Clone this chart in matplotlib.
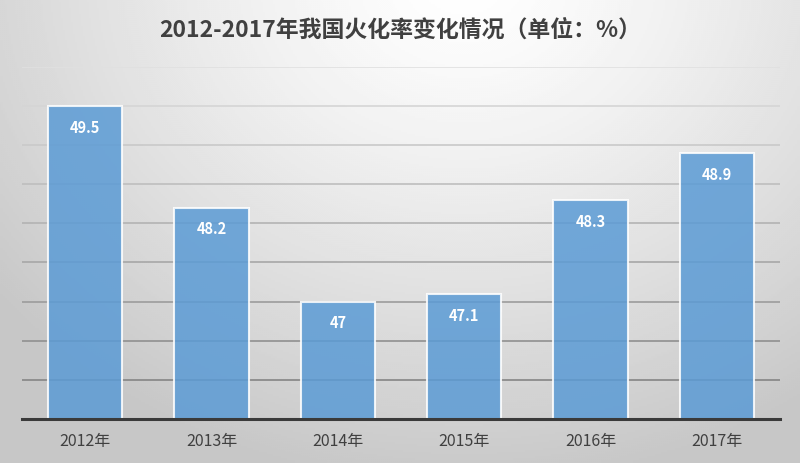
import numpy as np
import matplotlib
matplotlib.use('Agg')
import matplotlib.pyplot as plt

plt.rcParams['font.family'] = ['Noto Sans CJK SC', 'DejaVu Sans']

## chart data
years = ['2012年', '2013年', '2014年', '2015年', '2016年', '2017年']
rates = [49.5, 48.2, 47, 47.1, 48.3, 48.9]
title = '2012-2017年我国火化率变化情况（单位：%）'

fig = plt.figure(figsize=(8, 4.64), dpi=100)

## gradient background: bright at top centre, grey towards the edges
bg = fig.add_axes([0, 0, 1, 1], zorder=-10)
gx, gy = np.meshgrid(np.linspace(0, 1, 400), np.linspace(0, 1, 232))
dist = np.sqrt(((gx - 0.58) / 0.75) ** 2 + ((gy - 1.05) / 1.1) ** 2)
shade = 1.0 - 0.22 * np.clip(dist, 0, 1) ** 1.3
bg.imshow(shade, cmap='gray', vmin=0, vmax=1, origin='lower',
          extent=[0, 1, 0, 1], aspect='auto', interpolation='bilinear')
bg.axis('off')

ax = fig.add_axes([0.0275, 0.0948, 0.9475, 0.7592])
ax.patch.set_alpha(0)
ax.set_ylim(45.5, 50)
ax.set_xlim(-0.5, len(years) - 0.5)

# grid lines get darker towards the bottom, like the picture
for lvl in np.arange(46, 50.01, 0.5):
    g = 0.52 + (lvl - 46) / 4 * 0.36
    ax.axhline(lvl, color=(g, g, g), lw=1.2, zorder=1)

x = np.arange(len(years))
bars = ax.bar(x, rates, width=0.59, bottom=0, color='#5b9bd5', alpha=0.85,
              edgecolor='white', linewidth=1.5, zorder=2)

for xi, v in zip(x, rates):
    ax.annotate('{:g}'.format(v), (xi, v), xytext=(0, -15), textcoords='offset points',
                ha='center', va='center', color='white', fontsize=10.5, fontweight='bold',
                zorder=3)

ax.axhline(45.5, color='#3a3a3a', lw=2.2, zorder=4, clip_on=False)

for s in ax.spines.values():
    s.set_visible(False)
ax.set_yticks([])
ax.set_xticks(x)
ax.set_xticklabels(years, fontsize=11.5, color='#404040')
ax.tick_params(axis='x', length=0, pad=9)

fig.text(0.5, 0.935, title, ha='center', va='center', fontsize=16.5,
         fontweight='bold', color='#404040')

fig.savefig('out.png', dpi=100)
